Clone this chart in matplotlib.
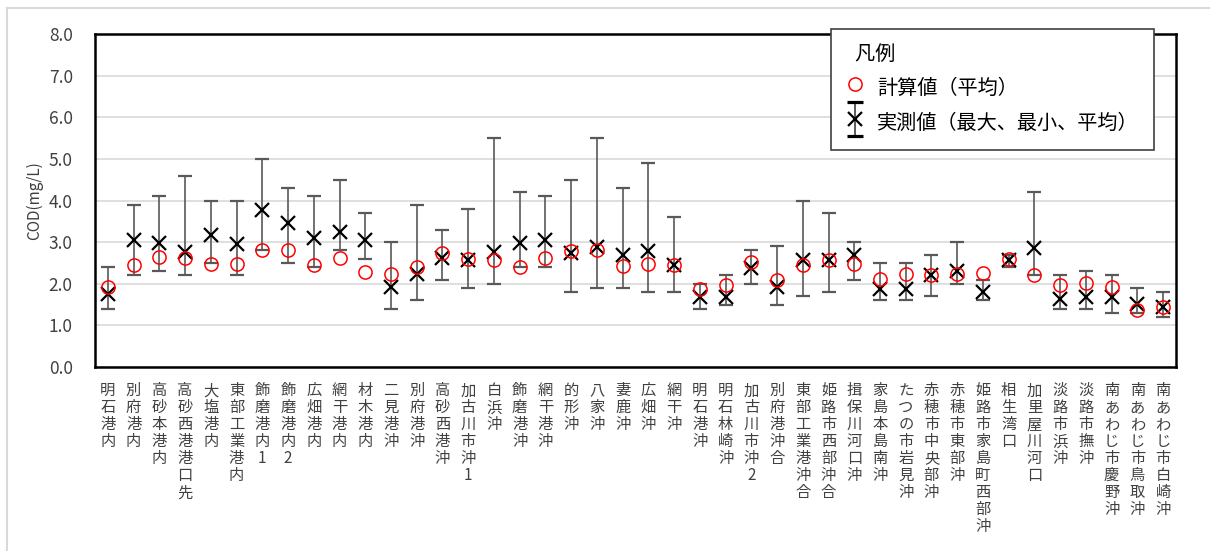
import matplotlib
matplotlib.use("Agg")
import matplotlib.pyplot as plt
from matplotlib.lines import Line2D
from matplotlib.legend_handler import HandlerErrorbar
from matplotlib.container import ErrorbarContainer

plt.rcParams['font.family'] = ['Noto Sans CJK JP', 'DejaVu Sans']

# Monitoring stations
stations = [
    "明石港内", "別府港内", "高砂本港内", "高砂西港港口先", "大塩港内", "東部工業港内",
    "飾磨港内1", "飾磨港内2", "広畑港内", "網干港内", "材木港内", "二見港沖",
    "別府港沖", "高砂西港沖", "加古川市沖1", "白浜沖", "飾磨港沖", "網干港沖",
    "的形沖", "八家沖", "妻鹿沖", "広畑沖", "網干沖", "明石港沖",
    "明石林崎沖", "加古川市沖2", "別府港沖合", "東部工業港沖合", "姫路市西部沖合", "揖保川河口沖",
    "家島本島南沖", "たつの市岩見沖", "赤穂市中央部沖", "赤穂市東部沖", "姫路市家島町西部沖", "相生湾口",
    "加里屋川河口", "淡路市浜沖", "淡路市撫沖", "南あわじ市慶野沖", "南あわじ市鳥取沖", "南あわじ市白崎沖",
]

# Computed mean COD (mg/L)
calc_mean = [
    1.92, 2.46, 2.65, 2.61, 2.47, 2.48,
    2.82, 2.82, 2.45, 2.61, 2.29, 2.24,
    2.40, 2.73, 2.59, 2.58, 2.40, 2.61,
    2.78, 2.82, 2.43, 2.48, 2.45, 1.88,
    1.98, 2.52, 2.08, 2.44, 2.57, 2.47,
    2.12, 2.23, 2.20, 2.24, 2.26, 2.59,
    2.20, 1.96, 2.01, 1.92, 1.36, 1.44,
]

# Observed COD: maximum, minimum, mean (mg/L)
obs_max = [
    2.4, 3.9, 4.1, 4.6, 4.0, 4.0,
    5.0, 4.3, 4.1, 4.5, 3.7, 3.0,
    3.9, 3.3, 3.8, 5.5, 4.2, 4.1,
    4.5, 5.5, 4.3, 4.9, 3.6, 2.0,
    2.2, 2.8, 2.9, 4.0, 3.7, 3.0,
    2.5, 2.5, 2.7, 3.0, 2.1, 2.7,
    4.2, 2.2, 2.3, 2.2, 1.9, 1.8,
]
obs_min = [
    1.4, 2.2, 2.3, 2.2, 2.5, 2.2,
    2.8, 2.5, 2.4, 2.8, 2.6, 1.4,
    1.6, 2.1, 1.9, 2.0, 2.4, 2.4,
    1.8, 1.9, 1.9, 1.8, 1.8, 1.4,
    1.5, 2.0, 1.5, 1.7, 1.8, 2.1,
    1.6, 1.6, 1.7, 2.0, 1.6, 2.4,
    2.2, 1.4, 1.4, 1.3, 1.3, 1.2,
]
obs_mean = [
    1.76, 3.05, 2.97, 2.77, 3.17, 2.95,
    3.77, 3.46, 3.11, 3.24, 3.05, 1.92,
    2.23, 2.63, 2.57, 2.77, 2.98, 3.06,
    2.75, 2.89, 2.70, 2.79, 2.46, 1.67,
    1.68, 2.39, 1.92, 2.58, 2.58, 2.69,
    1.88, 1.88, 2.20, 2.31, 1.80, 2.58,
    2.85, 1.64, 1.68, 1.68, 1.52, 1.44,
]

y_ticks = [0, 1, 2, 3, 4, 5, 6, 7, 8]


class CapErrorbarHandler(HandlerErrorbar):
    """Errorbar legend entry with black, heavy horizontal caps."""

    def create_artists(self, *args, **kwargs):
        artists = super().create_artists(*args, **kwargs)
        for a in artists:
            if isinstance(a, Line2D):
                m = a.get_marker()
                if isinstance(m, str) and m.lower() in ("x", "none", "", " "):
                    continue
                if m is None:
                    continue
                a.set_marker("_")
                a.set_color("black")
                a.set_markeredgecolor("black")
                a.set_markeredgewidth(2.3)
                a.set_markersize(11)
            else:
                a.set_color("#404040")
        return artists


W, H = 1210, 551
fig = plt.figure(figsize=(W / 100, H / 100), dpi=100)
fig.patch.set_facecolor("white")

# Chart-area border (top and left edges)
fig.add_artist(Line2D([6.5 / W, 6.5 / W], [0, 1 - 8 / H], transform=fig.transFigure,
                      color="#d9d9d9", lw=1.5))
fig.add_artist(Line2D([6.5 / W, 1], [1 - 8 / H, 1 - 8 / H], transform=fig.transFigure,
                      color="#d9d9d9", lw=1.5))

left, right, top, bottom = 95, 1176, 34, 367
ax = fig.add_axes([left / W, 1 - bottom / H, (right - left) / W, (bottom - top) / H])

x = list(range(len(stations)))

yerr_lo = [m - lo for m, lo in zip(obs_mean, obs_min)]
yerr_hi = [hi - m for m, hi in zip(obs_mean, obs_max)]

eb = ax.errorbar(x, obs_mean, yerr=[yerr_lo, yerr_hi], fmt="x", color="black",
                 ms=10.5, mew=1.6, ecolor="#595959", elinewidth=1.2,
                 capsize=5, capthick=2.3, zorder=3,
                 label="実測値（最大、最小、平均）")
for cap in eb[1]:
    cap.set_color("black")

calc = ax.plot(x, calc_mean, linestyle="none", marker="o", ms=9.5, mfc="none",
               mec="#ff0000", mew=1.1, zorder=4, label="計算値（平均）")[0]

ax.set_xlim(-0.5, len(stations) - 0.5)
ax.set_ylim(0, 8)
ax.set_yticks(y_ticks)
ax.set_yticklabels([f"{v:.1f}" for v in y_ticks], fontsize=12.5, color="#404040")
ax.set_xticks(x)
ax.set_xticklabels(["\n".join(s) for s in stations], fontsize=11, color="#404040",
                   linespacing=1.0, va="top")
ax.tick_params(axis="both", length=0)
ax.tick_params(axis="x", pad=11)
ax.tick_params(axis="y", pad=16)

ax.grid(axis="y", color="#d9d9d9", lw=1.2)
ax.set_axisbelow(True)
for sp in ax.spines.values():
    sp.set_color("black")
    sp.set_linewidth(1.8)

ax.set_ylabel("COD(mg/L)", fontsize=11, color="#404040", labelpad=4)

leg = ax.legend(handles=[calc, eb], loc="upper left",
                bbox_to_anchor=(831 / W, 1 - 29 / H), bbox_transform=fig.transFigure,
                title="  凡例", alignment="left", fontsize=14.5, title_fontsize=14.5,
                frameon=True, fancybox=False, framealpha=1, edgecolor="#404040",
                borderpad=0.75, labelspacing=0.45, handlelength=0.9, handletextpad=0.65,
                handleheight=1.6, borderaxespad=0,
                handler_map={ErrorbarContainer: CapErrorbarHandler(yerr_size=0.85)})
leg.get_frame().set_linewidth(1.2)
leg.set_zorder(10)

fig.savefig("out.png", dpi=100)
